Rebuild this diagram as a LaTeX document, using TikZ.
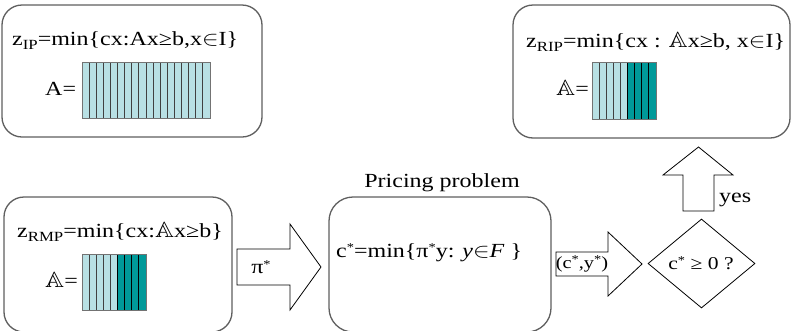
\documentclass[tikz,border=0pt]{standalone}
\usepackage{amssymb}
\usepackage{fontspec}
\setmainfont{Liberation Serif}
\usepackage{graphicx}
\usetikzlibrary{shapes.geometric}
\definecolor{lightc}{RGB}{184,224,228}
\definecolor{darkc}{RGB}{0,153,153}
\definecolor{boxgray}{RGB}{95,95,95}
\newcommand\tx[1]{\scalebox{1.2}[1]{#1}}
\newcommand\sbs[1]{\raisebox{-0.45ex}{\fontsize{14}{14}\selectfont #1}}
\newcommand\spr{\raisebox{0.55ex}{\fontsize{12}{12}\selectfont *}}
\newcommand\bbA{\scalebox{1.1}{$\mathbb{A}$}}
\tikzset{
  probbox/.style={draw=boxgray, line width=1.3pt, rounded corners=20pt, fill=white},
  txt/.style={inner sep=0pt, font=\fontsize{20}{24}\selectfont},
  blockarrow/.style={draw=black, line width=0.8pt, fill=white, line join=miter},
  lightcell/.style={draw=black!75, line width=0.8pt, fill=lightc},
  darkcell/.style={draw=black, line width=0.8pt, fill=darkc},
  matframe/.style={draw=black!55, line width=1pt}
}
\begin{document}
\begin{tikzpicture}[x=1pt,y=-1pt]
\useasboundingbox (0,0) rectangle (793,330);
\clip (0,0) rectangle (793,330);
% boxes
\node[probbox, minimum width=260, minimum height=132] (ip) at (132,71) {};
\node[probbox, minimum width=277, minimum height=133] (rip) at (651.5,71.5) {};
\node[probbox, minimum width=228, minimum height=135] (rmp) at (118,264.5) {};
\node[probbox, minimum width=222, minimum height=135, rounded corners=24pt] (pp) at (440,264.5) {};
% texts top-left
\node[txt, anchor=base west] (ipf) at (12,45) {\tx{z\sbs{IP}=min\{cx:Ax≥b,x$\in$I\}}};
\node[txt, anchor=base west] (ipa) at (45,95) {\tx{A=}};
\foreach \i in {0,...,17} \draw[lightcell] (82+\i*7.111,62) rectangle ++(7.111,56);
\draw[matframe] (82,62) rectangle (210,118);
% top-right
\node[txt, anchor=base west] (ripf) at (526,47) {\tx{z\sbs{RIP}=min\{cx : \bbA x≥b, x$\in$I\}}};
\node[txt, anchor=base west] (ripa) at (556,95) {\tx{\bbA=}};
\foreach \i in {0,...,4} \draw[lightcell] (592+\i*7.111,62) rectangle ++(7.111,57);
\foreach \i in {5,...,8} \draw[darkcell] (592+\i*7.111,62) rectangle ++(7.111,57);
\draw[matframe] (592,62) rectangle (656,119);
% bottom-left
\node[txt, anchor=base west] (rmpf) at (17,237) {\tx{z\sbs{RMP}=min\{cx:\bbA x≥b\}}};
\node[txt, anchor=base west] (rmpa) at (45,287) {\tx{\bbA=}};
\foreach \i in {0,...,4} \draw[lightcell] (82+\i*7.111,254) rectangle ++(7.111,56);
\foreach \i in {5,...,8} \draw[darkcell] (82+\i*7.111,254) rectangle ++(7.111,56);
\draw[matframe] (82,254) rectangle (146,310);
% pricing
\node[txt, anchor=base] (pptitle) at (442,187) {\tx{Pricing problem}};
\node[txt, anchor=base west] (ppf) at (336,257) {\tx{c\spr=min\{π\spr y: \textit{y}$\in$\textit{F} \}}};
% pi arrow
\draw[blockarrow] (237,249) -- (290,249) -- (290,224) -- (321,267) -- (290,310) -- (290,285) -- (237,285) -- cycle;
\node[txt] (pi) at (261,267) {\tx{π\spr}};
% c y arrow
\draw[blockarrow] (556,252) -- (608,252) -- (608,232) -- (642,264) -- (608,296) -- (608,276) -- (556,276) -- cycle;
\node[txt, font=\fontsize{17}{20}\selectfont] (cy) at (582,264) {\tx{(c\spr,y\spr)}};
% diamond
\node[draw=black, line width=0.8pt, diamond, minimum width=107, minimum height=89, inner sep=0pt, fill=white] (dec) at (701.5,263.5) {};
\node[txt, font=\fontsize{18}{22}\selectfont] (dect) at (701,263) {\tx{c\spr\ ≥ 0 ?}};
% yes arrow
\draw[blockarrow] (683,211) -- (714,211) -- (714,175) -- (733,175) -- (698.5,147) -- (663,175) -- (683,175) -- cycle;
\node[txt, anchor=base west] (yes) at (719,202) {\tx{yes}};
\end{tikzpicture}
\end{document}
